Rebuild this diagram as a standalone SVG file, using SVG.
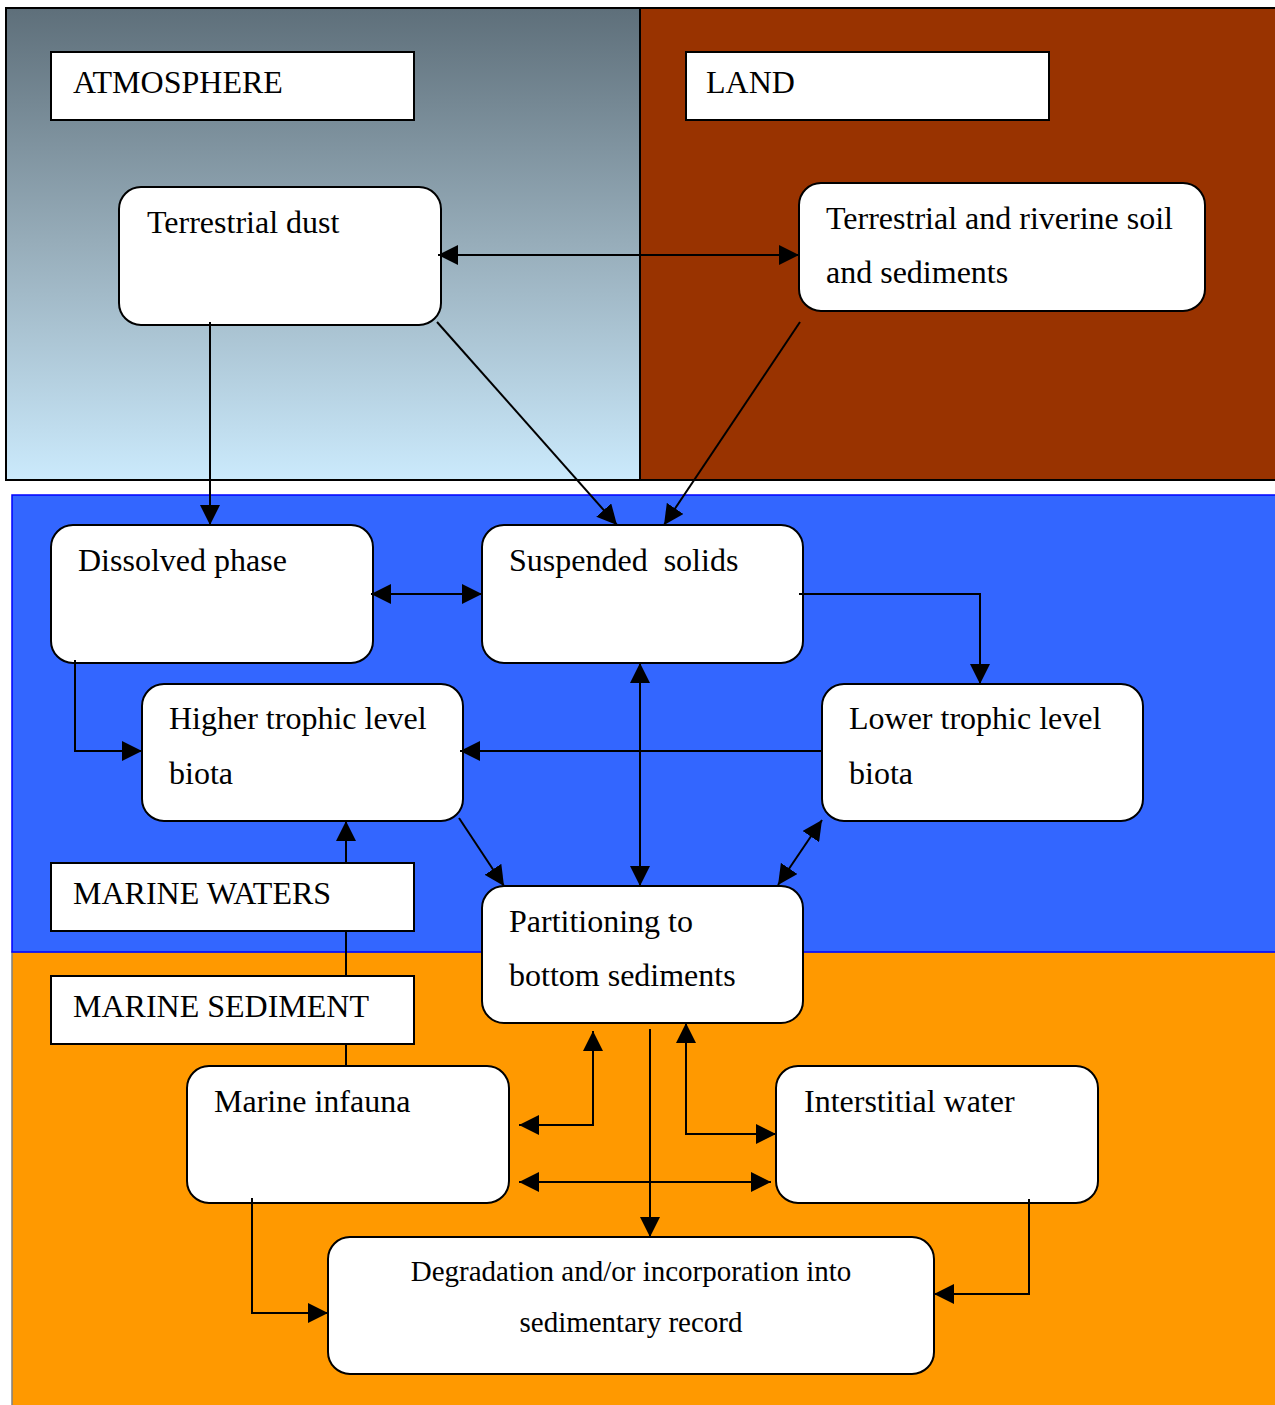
<svg xmlns="http://www.w3.org/2000/svg" width="1275" height="1405" viewBox="0 0 1275 1405">
<style>
text{font-family:"Liberation Serif","Times New Roman",serif;font-size:32px;fill:#000}
.small{font-size:29px}
.label{fill:#fff;stroke:#000;stroke-width:2}
.node{fill:#fff;stroke:#000;stroke-width:2}
.conn{fill:none;stroke:#000;stroke-width:2}
</style>
<defs>
<linearGradient id="atmo" x1="0" y1="0" x2="0" y2="1">
<stop offset="0" stop-color="#5e6f7a"/>
<stop offset="0.5" stop-color="#97adba"/>
<stop offset="1" stop-color="#cbeafc"/>
</linearGradient>
<marker id="ah" viewBox="0 0 20 20" refX="20" refY="10" markerWidth="20" markerHeight="20" markerUnits="userSpaceOnUse" orient="auto-start-reverse">
<path d="M0,0 L20,10 L0,20 z" fill="#000"/>
</marker>
</defs>
<rect width="1275" height="1405" fill="#fff"/>
<g id="panels">
<rect id="atmosphere-panel" x="6" y="8" width="634" height="472" fill="url(#atmo)" stroke="#000" stroke-width="2"/>
<rect id="land-panel" x="640" y="8" width="645" height="472" fill="#993300" stroke="#000" stroke-width="2"/>
<rect id="sediment-panel" x="12" y="952" width="1275" height="470" fill="#ff9900" stroke="#808080" stroke-width="1.5"/>
<rect id="waters-panel" x="12" y="495" width="1275" height="457" fill="#3366ff" stroke="#0000ff" stroke-width="1.5"/>
</g>
<g id="lbl-atmosphere"><rect class="label" x="51" y="52" width="363" height="68"/><text x="73" y="93">ATMOSPHERE</text></g>
<g id="lbl-land"><rect class="label" x="686" y="52" width="363" height="68"/><text x="706" y="93">LAND</text></g>
<g id="lbl-marine-waters"><rect class="label" x="51" y="863" width="363" height="68"/><text x="73" y="904">MARINE WATERS</text></g>
<g id="lbl-marine-sediment"><rect class="label" x="51" y="976" width="363" height="68"/><text x="73" y="1017">MARINE SEDIMENT</text></g>
<g id="n-dust"><rect class="node" x="119" y="187" width="322" height="138" rx="22"/><text x="147" y="233">Terrestrial dust</text></g>
<g id="n-soil"><rect class="node" x="799" y="183" width="406" height="128" rx="22"/><text x="826" y="229">Terrestrial and riverine soil</text><text x="826" y="283">and sediments</text></g>
<g id="n-dissolved"><rect class="node" x="51" y="525" width="322" height="138" rx="22"/><text x="78" y="571">Dissolved phase</text></g>
<g id="n-suspended"><rect class="node" x="482" y="525" width="321" height="138" rx="22"/><text x="509" y="571" xml:space="preserve" style="white-space:pre">Suspended  solids</text></g>
<g id="n-higher"><rect class="node" x="142" y="684" width="321" height="137" rx="22"/><text x="169" y="729">Higher trophic level</text><text x="169" y="784">biota</text></g>
<g id="n-lower"><rect class="node" x="822" y="684" width="321" height="137" rx="22"/><text x="849" y="729">Lower trophic level</text><text x="849" y="784">biota</text></g>
<g id="n-partitioning"><rect class="node" x="482" y="886" width="321" height="137" rx="22"/><text x="509" y="932">Partitioning to</text><text x="509" y="986">bottom sediments</text></g>
<g id="n-infauna"><rect class="node" x="187" y="1066" width="322" height="137" rx="22"/><text x="214" y="1112">Marine infauna</text></g>
<g id="n-interstitial"><rect class="node" x="776" y="1066" width="322" height="137" rx="22"/><text x="804" y="1112">Interstitial water</text></g>
<g id="n-degradation"><rect class="node" x="328" y="1237" width="606" height="137" rx="22"/><text class="small" x="631" y="1281" text-anchor="middle">Degradation and/or incorporation into</text><text class="small" x="631" y="1332" text-anchor="middle">sedimentary record</text></g>
<g id="connectors">
<path class="conn" d="M438,255 L799,255" marker-start="url(#ah)" marker-end="url(#ah)"/>
<path class="conn" d="M210,322 L210,525" marker-end="url(#ah)"/>
<path class="conn" d="M437,322 L617,525" marker-end="url(#ah)"/>
<path class="conn" d="M800,322 L664,525" marker-end="url(#ah)"/>
<path class="conn" d="M371,594 L482,594" marker-start="url(#ah)" marker-end="url(#ah)"/>
<path class="conn" d="M799,594 H980 V684" marker-end="url(#ah)"/>
<path class="conn" d="M75,660 V751 H142" marker-end="url(#ah)"/>
<path class="conn" d="M822,751 H460" marker-end="url(#ah)"/>
<path class="conn" d="M640,663 V886" marker-start="url(#ah)" marker-end="url(#ah)"/>
<path class="conn" d="M459,818 L504,886" marker-end="url(#ah)"/>
<path class="conn" d="M822,820 L778,885" marker-start="url(#ah)" marker-end="url(#ah)"/>
<path class="conn" d="M346,863 V821" marker-end="url(#ah)"/>
<path class="conn" d="M346,931 V976"/>
<path class="conn" d="M346,1044 V1066"/>
<path class="conn" d="M519,1125 H593 V1031" marker-start="url(#ah)" marker-end="url(#ah)"/>
<path class="conn" d="M519,1182 H771" marker-start="url(#ah)" marker-end="url(#ah)"/>
<path class="conn" d="M650,1029 V1237" marker-end="url(#ah)"/>
<path class="conn" d="M686,1023 V1134 H776" marker-start="url(#ah)" marker-end="url(#ah)"/>
<path class="conn" d="M1029,1199 V1294 H934" marker-end="url(#ah)"/>
<path class="conn" d="M252,1198 V1313 H328" marker-end="url(#ah)"/>
</g>
</svg>
